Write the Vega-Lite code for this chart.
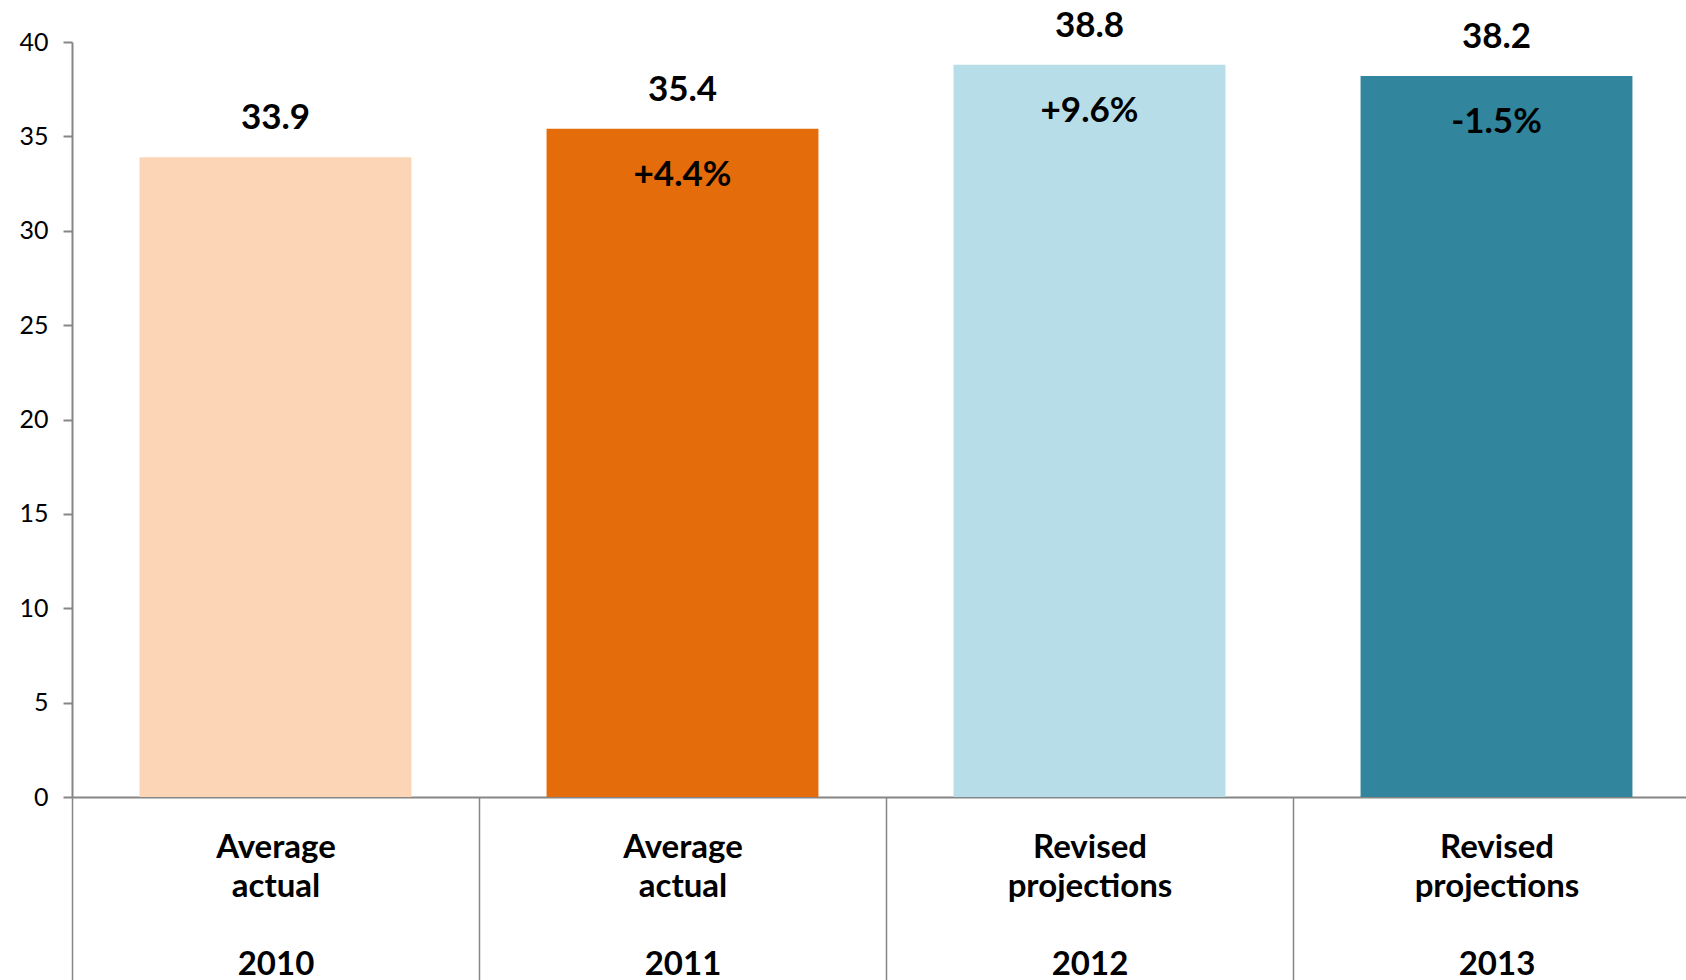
{
  "$schema": "https://vega.github.io/schema/vega-lite/v6.json",
  "width": 1614,
  "height": 755,
  "autosize": {"type": "none"},
  "padding": {"left": 72, "top": 42, "right": 0, "bottom": 183},
  "background": "white",
  "config": {"view": {"stroke": null}, "font": "Lato"},
  "data": {
    "values": [
      {"category": "Average|actual|\u2800|2010", "year": "2010", "value": 33.9, "change": ""},
      {"category": "Average|actual|\u2800|2011", "year": "2011", "value": 35.4, "change": "+4.4%"},
      {"category": "Revised|projections|\u2800|2012", "year": "2012", "value": 38.8, "change": "+9.6%"},
      {"category": "Revised|projections|\u2800|2013", "year": "2013", "value": 38.2, "change": "-1.5%"}
    ]
  },
  "encoding": {
    "x": {
      "field": "category",
      "type": "nominal",
      "sort": null,
      "scale": {"range": [0, 1628], "paddingInner": 0, "paddingOuter": 0},
      "axis": {
        "title": null,
        "labelAngle": 0,
        "labelExpr": "isValid(datum.value) ? split(datum.value, '|') : ''",
        "labelFont": "Lato",
        "labelFontWeight": "bold",
        "labelFontSize": 33,
        "labelColor": "black",
        "labelLineHeight": 39,
        "labelBaseline": "top",
        "labelPadding": -149,
        "labelLimit": 0,
        "domainColor": "#868686",
        "domainWidth": 2,
        "tickColor": "#868686",
        "tickWidth": 1.5,
        "tickSize": 183,
        "tickBand": "extent"
      }
    },
    "y": {
      "field": "value",
      "type": "quantitative",
      "scale": {"domain": [0, 40], "nice": false},
      "axis": {
        "title": null,
        "values": [0, 5, 10, 15, 20, 25, 30, 35, 40],
        "grid": false,
        "labelFont": "Lato",
        "labelFontSize": 25,
        "labelColor": "black",
        "labelPadding": 15,
        "domainColor": "#868686",
        "domainWidth": 2,
        "tickColor": "#868686",
        "tickWidth": 2,
        "tickSize": 9
      }
    }
  },
  "layer": [
    {
      "mark": {"type": "bar", "width": {"band": 0.668}},
      "encoding": {
        "color": {
          "field": "year",
          "type": "nominal",
          "scale": {"domain": ["2010", "2011", "2012", "2013"], "range": ["#FBD5B5", "#E46C0A", "#B7DEE8", "#31859C"]},
          "legend": null
        }
      }
    },
    {
      "mark": {"type": "text", "baseline": "alphabetic", "dy": -28, "fontSize": 35, "fontWeight": "bold", "font": "Lato", "color": "black"},
      "encoding": {"text": {"field": "value", "type": "quantitative", "format": ".1f"}}
    },
    {
      "mark": {"type": "text", "baseline": "alphabetic", "dy": 57, "fontSize": 35, "fontWeight": "bold", "font": "Lato", "color": "black"},
      "encoding": {"text": {"field": "change", "type": "nominal"}}
    }
  ]
}
